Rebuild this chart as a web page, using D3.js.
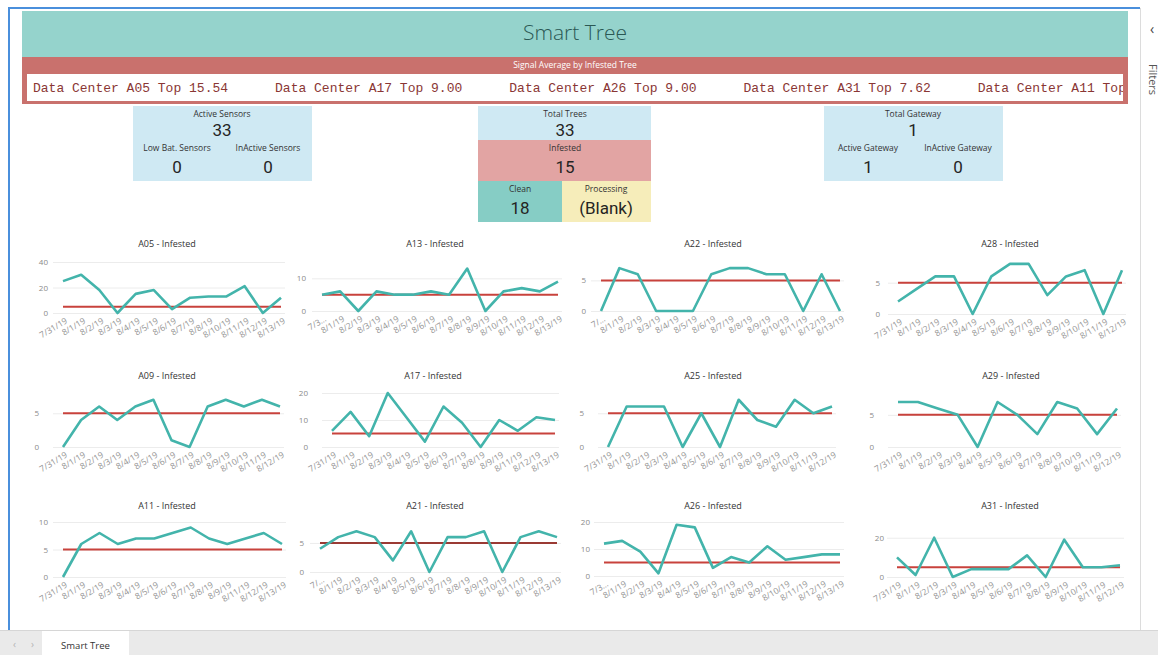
<!DOCTYPE html>
<html><head><meta charset="utf-8">
<script src="https://cdn.jsdelivr.net/npm/d3@7"></script>
<style>
html,body{margin:0;padding:0;background:#fff;}
svg{display:block;}
</style></head>
<body><svg id="c" width="1158" height="655"></svg>
<script>
// ---------------- DATA ----------------
const reportTitle = "Smart Tree";
const tickerTitle = "Signal Average by Infested Tree";
const tickerTrees = ["A05","A17","A26","A31","A11"];
const tickerValues = ["15.54","9.00","9.00","7.62","7.00"];

const sensorLabels = ["Active Sensors","Low Bat. Sensors","InActive Sensors"];
const sensorValues = ["33","0","0"];
const treeLabels = ["Total Trees","Infested","Clean","Processing"];
const treeValues = ["33","15","18","(Blank)"];
const gatewayLabels = ["Total Gateway","Active Gateway","InActive Gateway"];
const gatewayValues = ["1","1","0"];

const threshold = 5;

const a05Dates = ["7/31/19","8/1/19","8/2/19","8/3/19","8/4/19","8/5/19","8/6/19","8/7/19","8/8/19","8/10/19","8/11/19","8/12/19","8/13/19"];
const a05Values = [25,30,18,0,15,18,3,12,13,13,21,0,12];
const a05Ticks = [0,20,40];

const a13Dates = ["7/3…","8/1/19","8/2/19","8/3/19","8/4/19","8/5/19","8/6/19","8/7/19","8/8/19","8/9/19","8/10/19","8/11/19","8/12/19","8/13/19"];
const a13Values = [5,6,0,6,5,5,6,5,13,0,6,7,6,9];
const a13Ticks = [0,10];

const a22Dates = ["7/…","8/1/19","8/2/19","8/3/19","8/4/19","8/5/19","8/6/19","8/7/19","8/8/19","8/9/19","8/10/19","8/11/19","8/12/19","8/13/19"];
const a22Values = [0,7,6,0,0,0,6,7,7,6,6,0,6,0];
const a22Ticks = [0,5];

const a28Dates = ["7/31/19","8/1/19","8/2/19","8/3/19","8/4/19","8/5/19","8/6/19","8/7/19","8/8/19","8/9/19","8/10/19","8/11/19","8/12/19"];
const a28Values = [2,4,6,6,0,6,8,8,3,6,7,0,7];
const a28Ticks = [0,5];

const a09Dates = ["7/31/19","8/1/19","8/2/19","8/3/19","8/4/19","8/5/19","8/6/19","8/7/19","8/8/19","8/9/19","8/10/19","8/11/19","8/12/19"];
const a09Values = [0,4,6,4,6,7,1,0,6,7,6,7,6];
const a09Ticks = [0,5];

const a17Dates = ["7/31/19","8/1/19","8/2/19","8/3/19","8/4/19","8/5/19","8/6/19","8/7/19","8/8/19","8/9/19","8/11/19","8/12/19","8/13/19"];
const a17Values = [6,13,4,20,11,2,15,9,0,10,6,11,10];
const a17Ticks = [0,10,20];

const a25Dates = ["7/31/19","8/1/19","8/2/19","8/3/19","8/4/19","8/5/19","8/6/19","8/7/19","8/8/19","8/9/19","8/10/19","8/11/19","8/12/19"];
const a25Values = [0,6,6,6,0,5,0,7,4,3,7,5,6];
const a25Ticks = [0,5];

const a29Dates = ["7/31/19","8/1/19","8/2/19","8/3/19","8/4/19","8/5/19","8/6/19","8/7/19","8/8/19","8/10/19","8/11/19","8/12/19"];
const a29Values = [7,7,6,5,0,7,5,2,7,6,2,6];
const a29Ticks = [0,5];

const a11Dates = ["7/31/19","8/1/19","8/2/19","8/3/19","8/4/19","8/5/19","8/6/19","8/7/19","8/8/19","8/9/19","8/11/19","8/12/19","8/13/19"];
const a11Values = [0,6,8,6,7,7,8,9,7,6,7,8,6];
const a11Ticks = [0,5,10];

const a21Dates = ["7/…","8/1/19","8/2/19","8/3/19","8/4/19","8/5/19","8/6/19","8/7/19","8/8/19","8/9/19","8/10/19","8/11/19","8/12/19","8/13/19"];
const a21Values = [4,6,7,6,2,7,0,6,6,7,0,6,7,6];
const a21Ticks = [0,5];

const a26Dates = ["7/3…","8/1/19","8/2/19","8/3/19","8/4/19","8/5/19","8/6/19","8/7/19","8/8/19","8/9/19","8/10/19","8/11/19","8/12/19","8/13/19"];
const a26Values = [12,13,9,1,19,18,3,7,5,11,6,7,8,8];
const a26Ticks = [0,10,20];

const a31Dates = ["7/31/19","8/1/19","8/2/19","8/3/19","8/4/19","8/5/19","8/6/19","8/7/19","8/8/19","8/9/19","8/10/19","8/11/19","8/12/19"];
const a31Values = [10,1,20,0,4,4,4,11,0,19,5,5,6];
const a31Ticks = [0,20];

const tabName = "Smart Tree";
const filtersLabel = "Filters";

// ---------------- DRAW ----------------
const svg = d3.select("#c");
const FONT = "'Segoe UI','Open Sans','Noto Sans',sans-serif";
const TEAL_LINE = "#43b4ab", RED_LINE = "#c8423c";

// page frame
svg.append("rect").attr("x",0).attr("y",0).attr("width",1158).attr("height",655).attr("fill","#fff");
svg.append("line").attr("x1",1140.5).attr("x2",1140.5).attr("y1",8).attr("y2",630).attr("stroke","#dcdcdc");
svg.append("line").attr("x1",8).attr("x2",1140).attr("y1",8).attr("y2",8).attr("stroke","#4a8fdc").attr("stroke-width",2);
svg.append("line").attr("x1",9).attr("x2",9).attr("y1",7).attr("y2",630).attr("stroke","#4a8fdc").attr("stroke-width",2);
svg.append("text").attr("x",1150).attr("y",34).attr("font-family",FONT).attr("font-size",14).attr("fill","#444").text("‹");
svg.append("text").attr("transform","translate(1149,64) rotate(90)").attr("font-family",FONT).attr("font-size",11).attr("fill","#555").text(filtersLabel);

// bottom tab bar
svg.append("rect").attr("x",0).attr("y",630).attr("width",1158).attr("height",25).attr("fill","#eaeaea");
svg.append("line").attr("x1",0).attr("x2",1158).attr("y1",630.5).attr("y2",630.5).attr("stroke","#d6d6d6");
svg.append("rect").attr("x",42).attr("y",631).attr("width",87).attr("height",24).attr("fill","#fff");
svg.append("text").attr("x",85.5).attr("y",649).attr("text-anchor","middle").attr("font-family",FONT).attr("font-size",9.5).attr("fill","#333").text(tabName);
svg.append("text").attr("x",13).attr("y",648).attr("font-family",FONT).attr("font-size",10).attr("fill","#b5b5b5").text("‹");
svg.append("text").attr("x",31).attr("y",648).attr("font-family",FONT).attr("font-size",10).attr("fill","#b5b5b5").text("›");

// header
svg.append("rect").attr("x",22).attr("y",11).attr("width",1106).attr("height",46).attr("fill","#95d3cc");
svg.append("text").attr("x",575).attr("y",40).attr("text-anchor","middle").attr("font-family",FONT).attr("font-size",21).attr("font-weight",300).attr("fill","#2a5854").text(reportTitle);

// ticker
svg.append("rect").attr("x",22).attr("y",57).attr("width",1106).attr("height",47).attr("fill","#c9716d");
svg.append("text").attr("x",575).attr("y",68).attr("text-anchor","middle").attr("font-family",FONT).attr("font-size",8.5).attr("fill","#fff").text(tickerTitle);
svg.append("rect").attr("x",27).attr("y",74).attr("width",1096).attr("height",27).attr("fill","#fff");
svg.append("clipPath").attr("id","tclip").append("rect").attr("x",27).attr("y",74).attr("width",1096).attr("height",27);
const tg = svg.append("g").attr("clip-path","url(#tclip)");
let tx = 33;
tickerTrees.forEach((t,i)=>{
  const el = tg.append("text").attr("x",tx).attr("y",92).attr("font-family","'Liberation Mono','DejaVu Sans Mono',monospace")
    .attr("font-size",13).attr("fill","#8a3634").text(`Data Center ${t} Top ${tickerValues[i]}`);
  tx += el.node().getComputedTextLength() + 47;
});

// cards
function cardText(x,y,txt,size,color,weight){
  svg.append("text").attr("x",x).attr("y",y).attr("text-anchor","middle").attr("dominant-baseline","central")
    .attr("font-family",size>12?"'Roboto','Open Sans',sans-serif":FONT).attr("font-size",size).attr("font-weight",weight||400)
    .attr("fill",color||"#333").text(txt);
}
function rect(x,y,w,h,c){ svg.append("rect").attr("x",x).attr("y",y).attr("width",w).attr("height",h).attr("fill",c); }
// sensors
rect(133,106,179,75,"#cfe9f3");
cardText(222,113,sensorLabels[0],8.5);
cardText(222,130,sensorValues[0],17,"#252423");
cardText(177,147,sensorLabels[1],8.5);
cardText(268,147,sensorLabels[2],8.5);
cardText(177,167,sensorValues[1],17,"#252423");
cardText(268,167,sensorValues[2],17,"#252423");
// trees
rect(478,106,173,34,"#cfe9f3");
rect(478,140,173,41,"#e2a4a3");
rect(478,181,84,41,"#86cdc5");
rect(562,181,89,41,"#f6edba");
cardText(565,113,treeLabels[0],8.5);
cardText(565,130,treeValues[0],17,"#252423");
cardText(565,147,treeLabels[1],8.5);
cardText(565,167,treeValues[1],17,"#252423");
cardText(520,188,treeLabels[2],8.5);
cardText(520,208,treeValues[2],17,"#252423");
cardText(606,188,treeLabels[3],8.5);
cardText(606,208,treeValues[3],17,"#252423");
// gateway
rect(824,106,179,75,"#cfe9f3");
cardText(913,113,gatewayLabels[0],8.5);
cardText(913,130,gatewayValues[0],17,"#252423");
cardText(868,147,gatewayLabels[1],8.5);
cardText(958,147,gatewayLabels[2],8.5);
cardText(868,167,gatewayValues[1],17,"#252423");
cardText(958,167,gatewayValues[2],17,"#252423");

// small multiples
const charts = [
  {name:"A05",dates:a05Dates,values:a05Values,ticks:a05Ticks,max:40, x0:63, x1:281, base:313,top:262,titleX:167,titleY:243,gap:15},
  {name:"A13",dates:a13Dates,values:a13Values,ticks:a13Ticks,max:15, x0:322,x1:558, base:311,top:262,titleX:435,titleY:243,gap:16},
  {name:"A22",dates:a22Dates,values:a22Values,ticks:a22Ticks,max:8,  x0:601,x1:840, base:311,top:262,titleX:713,titleY:243,gap:15},
  {name:"A28",dates:a28Dates,values:a28Values,ticks:a28Ticks,max:8.3,x0:898,x1:1122,base:314,top:262,titleX:1010,titleY:243,gap:18},
  {name:"A09",dates:a09Dates,values:a09Values,ticks:a09Ticks,max:8,  x0:63, x1:280, base:447,top:393,titleX:167,titleY:375,gap:24},
  {name:"A17",dates:a17Dates,values:a17Values,ticks:a17Ticks,max:20, x0:332,x1:555, base:447,top:393,titleX:433,titleY:375,gap:24},
  {name:"A25",dates:a25Dates,values:a25Values,ticks:a25Ticks,max:8,  x0:608,x1:832, base:447,top:393,titleX:713,titleY:375,gap:24},
  {name:"A29",dates:a29Dates,values:a29Values,ticks:a29Ticks,max:8.4,x0:898,x1:1117,base:447,top:393,titleX:1011,titleY:375,gap:24},
  {name:"A11",dates:a11Dates,values:a11Values,ticks:a11Ticks,max:10, x0:63, x1:282, base:577,top:522,titleX:167,titleY:505,gap:15},
  {name:"A21",dates:a21Dates,values:a21Values,ticks:a21Ticks,max:8.6,x0:320,x1:557, base:572,top:522,titleX:435,titleY:505,gap:16,red:"#9a3a34"},
  {name:"A26",dates:a26Dates,values:a26Values,ticks:a26Ticks,max:20, x0:604,x1:840, base:576,top:522,titleX:713,titleY:505,gap:14},
  {name:"A31",dates:a31Dates,values:a31Values,ticks:a31Ticks,max:28, x0:897,x1:1120,base:577,top:522,titleX:1010,titleY:505,gap:13}
];

charts.forEach(c=>{
  const g = svg.append("g");
  const x = d3.scalePoint().domain(c.dates).range([c.x0,c.x1]);
  const y = d3.scaleLinear().domain([0,c.max]).range([c.base,c.top]);
  const data = c.dates.map((d,i)=>({d, v:c.values[i]}));

  g.append("text").attr("x",c.titleX).attr("y",c.titleY).attr("text-anchor","middle").attr("dominant-baseline","central")
    .attr("font-family",FONT).attr("font-size",9).attr("fill","#333").text(`${c.name} - Infested`);

  // gridlines
  const grid = g.append("g").attr("transform",`translate(${c.x0-10},0)`)
    .call(d3.axisRight(y).tickValues(c.ticks).tickSize(c.x1-c.x0+14).tickFormat(""));
  grid.select(".domain").remove();
  grid.selectAll("line").attr("stroke","#ececec");

  // y labels
  const ya = g.append("g").attr("transform",`translate(${c.x0-c.gap},0)`)
    .call(d3.axisLeft(y).tickValues(c.ticks).tickSize(0).tickPadding(0));
  ya.select(".domain").remove();
  ya.selectAll("text").attr("font-family",FONT).attr("font-size",8).attr("fill","#8a8a8a");

  // x labels
  const xa = g.append("g").attr("transform",`translate(0,${c.base})`)
    .call(d3.axisBottom(x).tickSize(0).tickPadding(0));
  xa.select(".domain").remove();
  xa.selectAll("text").attr("x",0).attr("y",0).attr("dy","0.35em")
    .attr("transform","translate(3,7) rotate(-31)").attr("text-anchor","end")
    .attr("font-family",FONT).attr("font-size",8.5).attr("fill","#959595");

  // threshold
  g.append("line").attr("x1",x(c.dates[0])).attr("x2",x(c.dates[c.dates.length-1]))
    .attr("y1",y(threshold)).attr("y2",y(threshold)).attr("stroke",c.red||RED_LINE).attr("stroke-width",2);

  // series
  g.append("path").datum(data).attr("fill","none").attr("stroke",TEAL_LINE).attr("stroke-width",2.6)
    .attr("stroke-linejoin","round")
    .attr("d",d3.line().x(p=>x(p.d)).y(p=>y(p.v)));
});
</script>
</body></html>
